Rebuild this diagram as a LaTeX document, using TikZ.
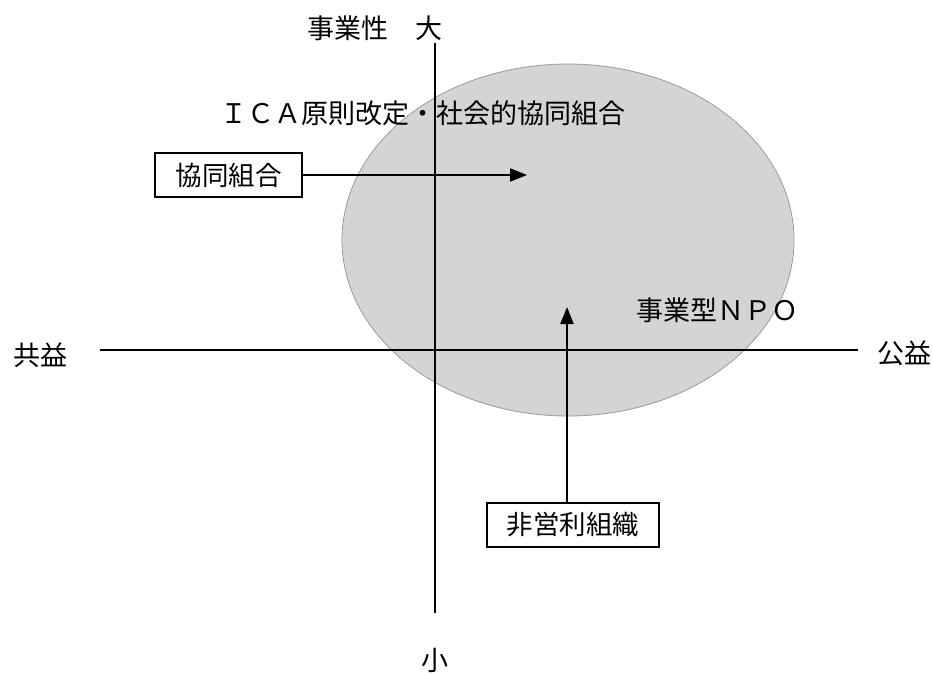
\documentclass[tikz,border=0pt]{standalone}
\usepackage{fontspec}
\setmainfont{Liberation Serif}
\newfontfamily\jp{Noto Sans CJK JP}
\usetikzlibrary{arrows.meta}
\tikzset{
  axisline/.style={line width=2.4pt, black},
  arr/.style={line width=1.9pt, -{Triangle[length=17pt,width=13pt]}},
  lbl/.style={font=\jp\fontsize{27}{30}\selectfont, inner sep=0pt},
  axlbl/.style={font=\jp\fontsize{27}{30}\selectfont, inner sep=0pt},
  boxlbl/.style={draw, line width=1.7pt, fill=white, font=\jp\fontsize{26.5}{30}\selectfont, minimum width=147pt, minimum height=44pt, inner sep=2pt},
}
\begin{document}
\begin{tikzpicture}[x=1pt,y=-1pt]
\useasboundingbox (0,0) rectangle (933,673);
% ellipse region
\path[fill=black!17, draw=black!40, line width=0.8pt] (568,240) ellipse [x radius=226, y radius=176];
% axes
\coordinate (vtop) at (435,43);
\coordinate (vbot) at (435,613);
\coordinate (hl) at (100,350);
\coordinate (hr) at (858,350);
\draw[axisline] (vtop) -- (vbot);
\draw[axisline] (hl) -- (hr);
% axis labels
\node[axlbl] (top) at (375,28) {事業性\hspace{1em}大};
\node[axlbl] (small) at (435,660) {小};
\node[axlbl] (left) at (40,355) {共益};
\node[axlbl] (right) at (904,353) {公益};
% texts
\node[lbl, anchor=west] (ica) at (220,113) {ＩＣＡ原則改定・社会的協同組合};
\node[lbl, anchor=west] (npo) at (636,310) {事業型ＮＰＯ};
% boxes
\node[boxlbl] (coop) at (228.5,175) {協同組合};
\node[boxlbl, minimum width=172pt] (npoorg) at (573,525) {非営利組織};
\coordinate (coopTip) at (527,175);
\coordinate (npoTip) at (567,307);
\draw[arr] (coop.east) -- (coopTip);
\draw[arr] (npoorg.north -| npoTip) -- (npoTip);
\end{tikzpicture}
\end{document}
